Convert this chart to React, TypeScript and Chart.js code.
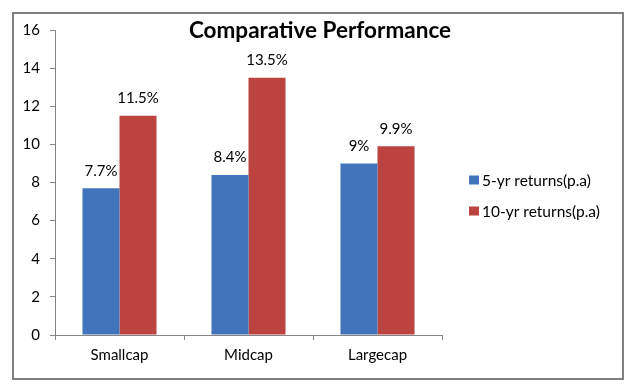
import React, { useEffect, useRef } from "react";
import { Chart, registerables } from "chart.js";

Chart.register(...registerables);

const categories = ["Smallcap", "Midcap", "Largecap"];
const seriesNames = ["5-yr returns(p.a)", "10-yr returns(p.a)"];
const fiveYr = [7.7, 8.4, 9];
const tenYr = [11.5, 13.5, 9.9];
const fiveYrLabels = ["7.7%", "8.4%", "9%"];
const tenYrLabels = ["11.5%", "13.5%", "9.9%"];
const yMin = 0;
const yMax = 16;
const yStep = 2;
const titleText = "Comparative Performance";

const BLUE = "#4174BA";
const RED = "#BB4340";
const AXIS = "#868686";
const FONT = "Lato";

const labelPlugin = {
  id: "customDraw",
  afterDatasetsDraw(chart: any) {
    const ctx = chart.ctx;
    const labelSets = [fiveYrLabels, tenYrLabels];
    ctx.save();
    ctx.fillStyle = "#000";
    ctx.font = `15px ${FONT}`;
    ctx.textAlign = "center";
    ctx.textBaseline = "bottom";
    chart.data.datasets.forEach((ds: any, di: number) => {
      const meta = chart.getDatasetMeta(di);
      meta.data.forEach((el: any, i: number) => {
        ctx.fillText(labelSets[di][i], el.x, el.y - 10);
      });
    });
    // title
    ctx.font = `bold 22.5px ${FONT}`;
    ctx.textBaseline = "middle";
    ctx.fillText(titleText, 320, 31);
    // legend
    ctx.font = `15.5px ${FONT}`;
    ctx.textAlign = "left";
    const ys = [180, 211];
    chart.data.datasets.forEach((ds: any, di: number) => {
      ctx.fillStyle = ds.backgroundColor;
      ctx.fillRect(469, ys[di] - 4.5, 10, 9);
      ctx.fillStyle = "#000";
      ctx.fillText(ds.label, 482, ys[di] + 1);
    });
    ctx.restore();
  },
};

export default function App() {
  const ref = useRef<HTMLCanvasElement | null>(null);
  useEffect(() => {
    if (!ref.current) return;
    const chart = new Chart(ref.current, {
      type: "bar",
      data: {
        labels: categories,
        datasets: [
          { label: seriesNames[0], data: fiveYr, backgroundColor: BLUE },
          { label: seriesNames[1], data: tenYr, backgroundColor: RED },
        ],
      },
      options: {
        responsive: false,
        animation: false,
        devicePixelRatio: 1,
        layout: { padding: { left: 0, top: 30, right: 198, bottom: 0 } },
        datasets: {
          bar: { categoryPercentage: 0.574, barPercentage: 1 },
        },
        plugins: {
          legend: { display: false },
          title: { display: false },
          tooltip: { enabled: false },
        },
        scales: {
          x: {
            afterFit(scale: any) {
              scale.height = 57;
            },
            grid: {
              display: true,
              drawOnChartArea: false,
              offset: true,
              tickLength: 5,
              color: AXIS,
            },
            border: { display: true, color: AXIS },
            ticks: {
              color: "#000",
              font: { family: FONT, size: 15 },
              padding: 6,
            },
          },
          y: {
            min: yMin,
            max: yMax,
            afterFit(scale: any) {
              scale.width = 55;
            },
            grid: {
              display: true,
              drawOnChartArea: false,
              tickLength: 5,
              color: AXIS,
            },
            border: { display: true, color: AXIS },
            ticks: {
              stepSize: yStep,
              color: "#000",
              font: { family: FONT, size: 15 },
              padding: 10,
            },
          },
        },
      },
      plugins: [labelPlugin],
    });
    return () => chart.destroy();
  }, []);
  return (
    <div style={{ position: "absolute", left: 0, top: 0, width: 640, height: 392, background: "#fff" }}>
      <div
        style={{
          position: "absolute",
          left: 12,
          top: 12,
          width: 608,
          height: 364,
          border: "2px solid #7f7f7f",
        }}
      />
      <canvas ref={ref} width={640} height={392} style={{ position: "absolute", left: 0, top: 0 }} />
    </div>
  );
}
